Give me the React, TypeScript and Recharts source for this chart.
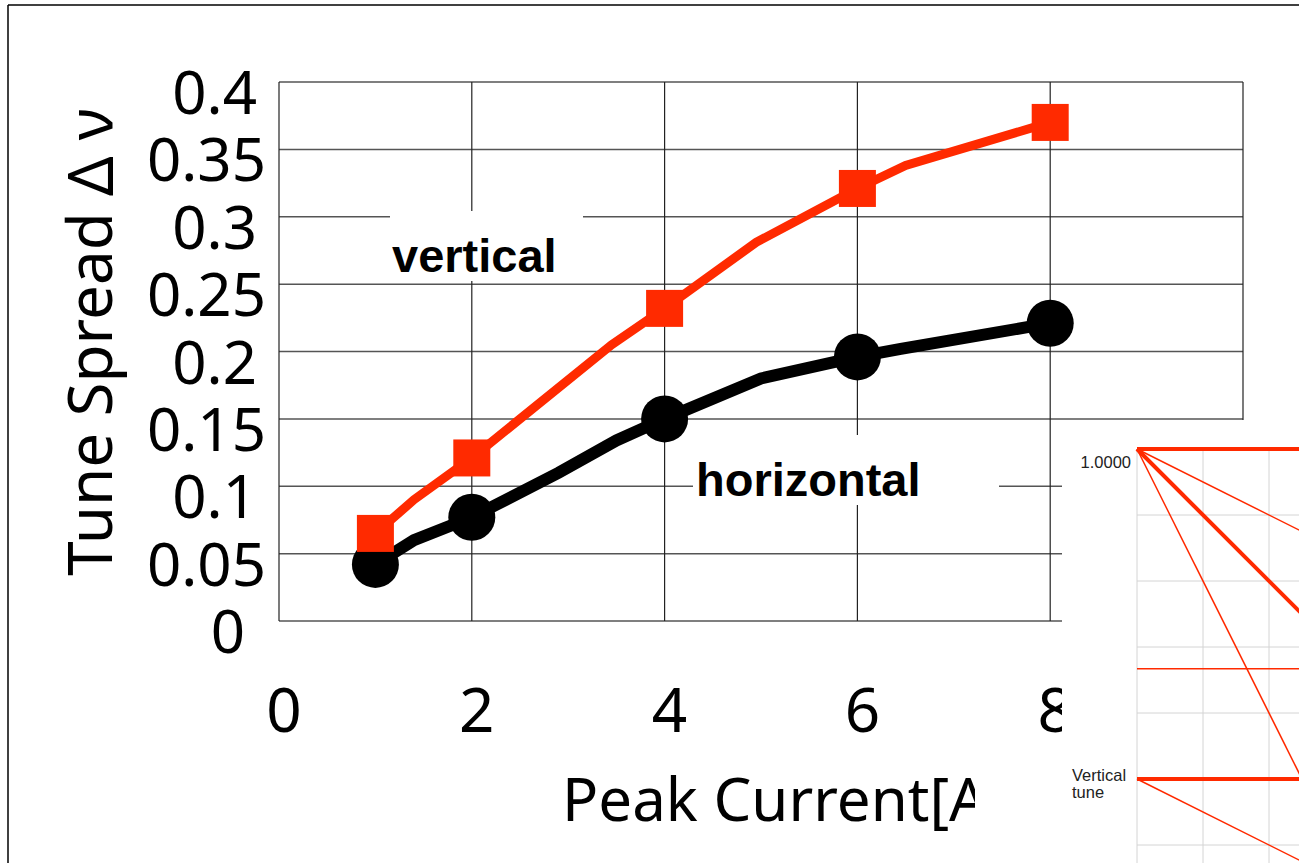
import { ComposedChart, LineChart, Line, Scatter, XAxis, YAxis, CartesianGrid } from 'recharts'

// ── measured points (markers) ────────────────────────────────
const peakCurrent = [1, 2, 4, 6, 8]
const verticalSpread = [0.065, 0.121, 0.232, 0.321, 0.37]
const horizontalSpread = [0.042, 0.077, 0.15, 0.196, 0.221]

// ── drawn curves, vertices ───────────────────────────────────
const verticalCurveCurrent = [1, 1.4, 2, 3.45, 4, 4.95, 6, 6.5, 8]
const verticalCurveSpread = [0.065, 0.09, 0.121, 0.205, 0.232, 0.281, 0.321, 0.338, 0.37]
const horizontalCurveCurrent = [1, 1.4, 2, 2.9, 3.5, 4, 5, 6, 6.45, 8]
const horizontalCurveSpread = [0.042, 0.06, 0.077, 0.11, 0.134, 0.15, 0.18, 0.196, 0.202, 0.221]

const xTicks = [0, 2, 4, 6, 8, 10]
const yTicks = [0, 0.05, 0.1, 0.15, 0.2, 0.25, 0.3, 0.35, 0.4]

// ── inset (tune diagram, partly cut off) ─────────────────────
const insetX = [0, 3]
const insetStart = [0, 0, 0, 0, -3.33, -5, -5]
const insetEnd = [0, -1.5, -3, -6, -3.33, -5, -6.5]
const insetXTicks = [0, 1, 2, 3]
const insetYTicks = [-7, -6, -5, -4, -3, -2, -1, 0]

const RED = '#ff2a00'
const insetWidths = [4, 1.5, 4, 1.5, 1.5, 4, 1.5]

const toPoints = (xs: number[], ys: number[]) => xs.map((x, i) => ({ x, y: ys[i] }))

const vMarkers = toPoints(peakCurrent, verticalSpread)
const hMarkers = toPoints(peakCurrent, horizontalSpread)
const vCurve = toPoints(verticalCurveCurrent, verticalCurveSpread)
const hCurve = toPoints(horizontalCurveCurrent, horizontalCurveSpread)
const insetLines = insetStart.map((s, i) => [
  { x: insetX[0], y: s },
  { x: insetX[1], y: insetEnd[i] },
])

const FONT = "'Noto Sans', sans-serif"
const BOLD = "'Liberation Sans', Arial, sans-serif"

function YTick({ y, payload }: any) {
  const label = String(payload.value)
  const right = label.length >= 4 ? 266 : label.length === 3 ? 257 : 245
  return (
    <text x={right} y={y + 32} textAnchor="end" fontFamily={FONT} fontSize={60} fill="#000">
      {label}
    </text>
  )
}

function XTick({ x, payload }: any) {
  return (
    <text x={x + 5} y={732} textAnchor="middle" fontFamily={FONT} fontSize={62} fill="#000">
      {payload.value}
    </text>
  )
}

const squareShape = (p: any) => <rect x={p.cx - 18.5} y={p.cy - 18.5} width={37} height={37} fill={RED} />
const circleShape = (p: any) => <circle cx={p.cx} cy={p.cy} r={23.5} fill="#000" />

export default function App() {
  return (
    <div style={{ position: 'fixed', left: 0, top: 0, width: 1299, height: 863, overflow: 'hidden', background: '#fff' }}>
      <div style={{ position: 'absolute', left: 0, top: 0 }}>
        <ComposedChart width={1299} height={863} margin={{ top: 82, right: 56, bottom: 142, left: 0 }}>
          <CartesianGrid vertical={false} stroke="#555" strokeWidth={1.5} />
          <CartesianGrid horizontal={false} stroke="#222" strokeWidth={1.2} />
          <XAxis
            type="number"
            dataKey="x"
            domain={[0, 10]}
            ticks={xTicks}
            height={100}
            axisLine={false}
            tickLine={false}
            tick={<XTick />}
            allowDuplicatedCategory={false}
          />
          <YAxis
            type="number"
            domain={[0, 0.4]}
            ticks={yTicks}
            width={279}
            axisLine={false}
            tickLine={false}
            tick={<YTick />}
          />
          <Line data={hCurve} dataKey="y" type="linear" stroke="#000" strokeWidth={12} dot={false} isAnimationActive={false} />
          <Scatter data={hMarkers} dataKey="y" shape={circleShape} isAnimationActive={false} />
          <Line data={vCurve} dataKey="y" type="linear" stroke={RED} strokeWidth={9} dot={false} isAnimationActive={false} />
          <Scatter data={vMarkers} dataKey="y" shape={squareShape} isAnimationActive={false} />
        </ComposedChart>
      </div>

      <svg width={1299} height={863} style={{ position: 'absolute', left: 0, top: 0, pointerEvents: 'none' }}>
        {/* outer frame */}
        <line x1={8} y1={5} x2={1299} y2={5} stroke="#000" strokeWidth={1.5} />
        <line x1={8} y1={5} x2={8} y2={863} stroke="#000" strokeWidth={1.5} />
        {/* axis titles */}
        <text transform="translate(112,342) rotate(-90)" textAnchor="middle" fontFamily={FONT} fontSize={62} fill="#000">
          Tune Spread Δ ν
        </text>
        <text x={562} y={821} fontFamily={FONT} fontSize={60} fill="#000">
          Peak Current[A]
        </text>
        {/* series labels */}
        <rect x={390} y={211} width={193} height={70} fill="#fff" />
        <text x={392} y={272} fontFamily={BOLD} fontWeight="bold" fontSize={47} fill="#000">vertical</text>
        <rect x={693} y={435} width={306} height={70} fill="#fff" />
        <text x={696} y={496} fontFamily={BOLD} fontWeight="bold" fontSize={47} fill="#000">horizontal</text>
      </svg>

      {/* pasted inset covering the lower right */}
      <div style={{ position: 'absolute', left: 975, top: 762, width: 90, height: 101, background: '#fff' }} />
      <div style={{ position: 'absolute', left: 1062, top: 420, width: 237, height: 443, background: '#fff', overflow: 'hidden' }}>
        <LineChart width={300} height={500} margin={{ top: 29, right: 27, bottom: 9, left: 75 }}>
          <CartesianGrid stroke="#d4d4d4" strokeWidth={1} />
          <XAxis type="number" dataKey="x" domain={[0, 3]} ticks={insetXTicks} hide allowDuplicatedCategory={false} />
          <YAxis type="number" domain={[-7, 0]} ticks={insetYTicks} hide />
          {insetLines.map((d, i) => (
            <Line
              key={i}
              data={d}
              dataKey="y"
              type="linear"
              stroke={RED}
              strokeWidth={insetWidths[i]}
              dot={false}
              isAnimationActive={false}
            />
          ))}
        </LineChart>
        <svg width={237} height={443} style={{ position: 'absolute', left: 0, top: 0, pointerEvents: 'none' }}>
          <text x={69} y={48} textAnchor="end" fontFamily={BOLD} fontSize={16.5} fill="#222">1.0000</text>
          <text x={10} y={361} fontFamily={BOLD} fontSize={16.5} fill="#222">Vertical</text>
          <text x={10} y={378} fontFamily={BOLD} fontSize={16.5} fill="#222">tune</text>
        </svg>
      </div>
    </div>
  )
}
